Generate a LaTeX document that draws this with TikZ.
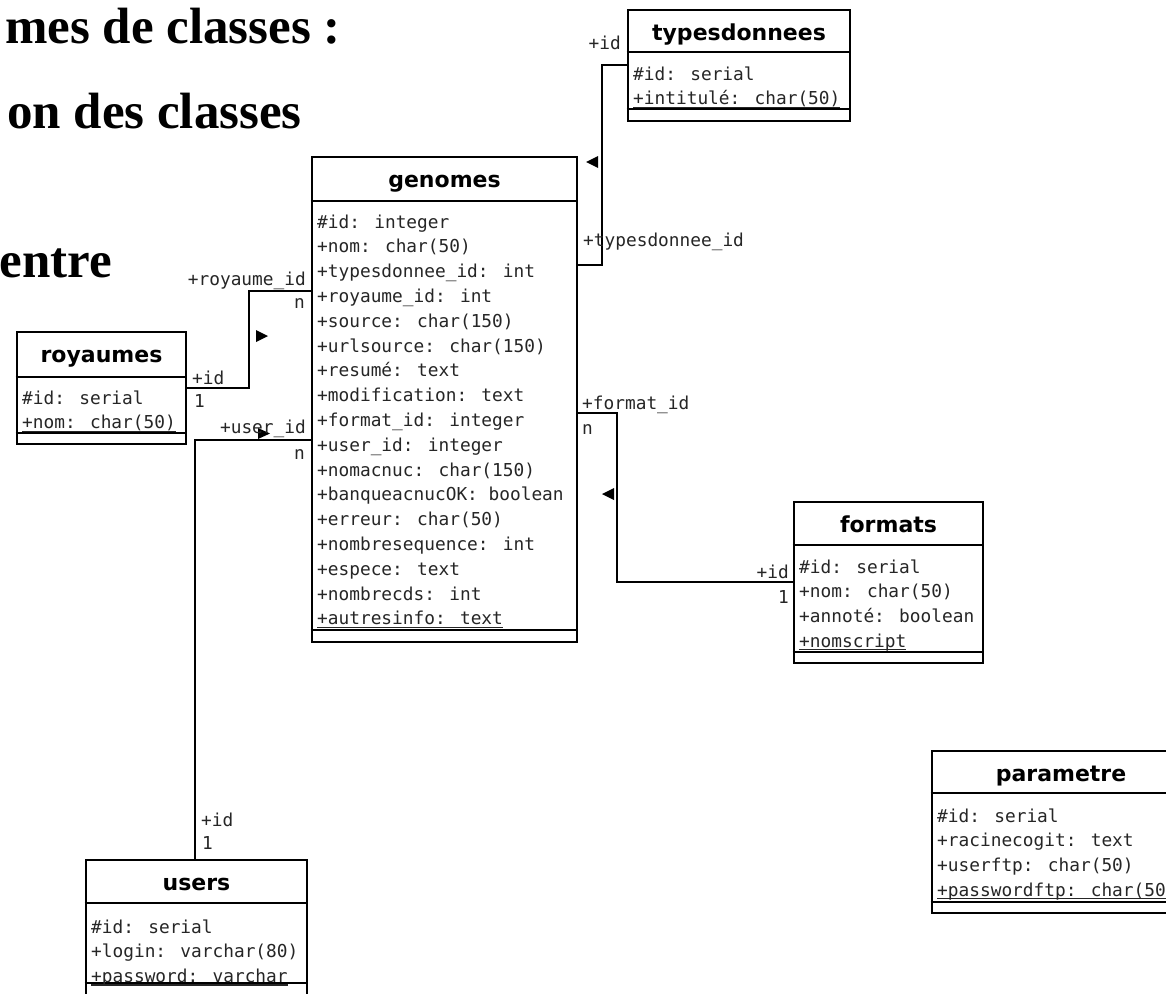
\documentclass[tikz,border=0pt]{standalone}
\usepackage{fontspec}
\setmainfont{Liberation Serif}
\newfontfamily\monofont{DejaVu Sans Mono}
\newfontfamily\headfont{DejaVu Sans}
\usetikzlibrary{fit}

% underlined attribute (static member), rule close under the baseline
\newcommand\ulattr[1]{\setbox0\hbox{#1}\rlap{\rule[-3pt]{\wd0}{1.2pt}}\box0}

% one attribute per line: #1 name prefix, #2 x, #3 first baseline, #4 list
\newcommand\attrlist[4]{%
  \foreach \t [count=\i] in {#4} {
    \node[attr] (#1-\i) at (#2, {#3+24.8*(\i-1)}) {\t};
  }}

\tikzset{
  classbox/.style={draw, line width=2.6pt, fill=white, inner sep=0pt},
  sepline/.style={line width=2.3pt},
  conn/.style={line width=2.5pt},
  classtitle/.style={font=\headfont\bfseries\fontsize{22}{22}\selectfont, anchor=base, inner sep=0pt},
  attr/.style={font=\monofont\fontsize{17.8}{20}\selectfont, anchor=base west, inner sep=0pt, text=black!85},
  rolelabel/.style={font=\monofont\fontsize{17.8}{20}\selectfont, inner sep=0pt, text=black!85},
  dirmark/.style={fill=black},
  slidetext/.style={font=\bfseries\fontsize{51}{60}\selectfont, anchor=base east, inner sep=0pt},
}

\begin{document}
\begin{tikzpicture}[x=1pt, y=-1pt]
\useasboundingbox (0,0) rectangle (1166,993);
\clip (0,0) rectangle (1166,993);
\fill[white] (0,0) rectangle (1166,993);

% slide heading fragments
\node[slidetext] (line1) at (341,43) {mes de classes :};
\node[slidetext] (line2) at (302,128) {on des classes};
\node[slidetext] (line3) at (112,277) {entre};

% ---------- typesdonnees ----------
\path (628,10) coordinate (td-nw) (850,121) coordinate (td-se);
\node[classbox, fit=(td-nw)(td-se)] (typesdonnees) {};
\draw[sepline] (typesdonnees.west |- 0,52) -- (typesdonnees.east |- 0,52);
\draw[sepline] (typesdonnees.west |- 0,109) -- (typesdonnees.east |- 0,109);
\node[classtitle] (typesdonnees-title) at (739,40) {typesdonnees};
\attrlist{td}{633}{80}{\#id: serial, \ulattr{+intitulé: char(50)}}

% ---------- genomes ----------
\path (312,157) coordinate (gen-nw) (577,642) coordinate (gen-se);
\node[classbox, fit=(gen-nw)(gen-se)] (genomes) {};
\draw[sepline] (genomes.west |- 0,201) -- (genomes.east |- 0,201);
\draw[sepline] (genomes.west |- 0,630) -- (genomes.east |- 0,630);
\node[classtitle] (genomes-title) at (444.5,187) {genomes};
\attrlist{gen}{317}{228}{\#id: integer, +nom: char(50), +typesdonnee\_id: int,
  +royaume\_id: int, +source: char(150), +urlsource: char(150), +resumé: text,
  +modification: text, +format\_id: integer, +user\_id: integer,
  +nomacnuc: char(150), +banqueacnucOK: boolean, +erreur: char(50),
  +nombresequence: int, +espece: text, +nombrecds: int, \ulattr{+autresinfo: text}}

% ---------- royaumes ----------
\path (17,332) coordinate (roy-nw) (186,444) coordinate (roy-se);
\node[classbox, fit=(roy-nw)(roy-se)] (royaumes) {};
\draw[sepline] (royaumes.west |- 0,377) -- (royaumes.east |- 0,377);
\draw[sepline] (royaumes.west |- 0,433) -- (royaumes.east |- 0,433);
\node[classtitle] (royaumes-title) at (101.5,362) {royaumes};
\attrlist{roy}{22}{404}{\#id: serial, \ulattr{+nom: char(50)}}

% ---------- formats ----------
\path (794,502) coordinate (fmt-nw) (983,663) coordinate (fmt-se);
\node[classbox, fit=(fmt-nw)(fmt-se)] (formats) {};
\draw[sepline] (formats.west |- 0,545) -- (formats.east |- 0,545);
\draw[sepline] (formats.west |- 0,652) -- (formats.east |- 0,652);
\node[classtitle] (formats-title) at (888.5,532) {formats};
\attrlist{fmt}{799}{573}{\#id: serial, +nom: char(50), +annoté: boolean, \ulattr{+nomscript}}

% ---------- parametre (runs past the right edge) ----------
\path (932,751) coordinate (par-nw) (1190,913) coordinate (par-se);
\node[classbox, fit=(par-nw)(par-se)] (parametre) {};
\draw[sepline] (parametre.west |- 0,793) -- (parametre.east |- 0,793);
\draw[sepline] (parametre.west |- 0,902) -- (parametre.east |- 0,902);
\node[classtitle] (parametre-title) at (1061,781) {parametre};
\attrlist{par}{937}{822}{\#id: serial, +racinecogit: text, +userftp: char(50),
  \ulattr{+passwordftp: char(50)}}

% ---------- users (runs past the bottom edge) ----------
\path (86,860) coordinate (usr-nw) (307,1000) coordinate (usr-se);
\node[classbox, fit=(usr-nw)(usr-se)] (users) {};
\draw[sepline] (users.west |- 0,903) -- (users.east |- 0,903);
\draw[sepline] (users.west |- 0,983) -- (users.east |- 0,983);
\node[classtitle] (users-title) at (196.5,890) {users};
\attrlist{usr}{91}{933}{\#id: serial, +login: varchar(80), \ulattr{+password: varchar}}

% ---------- associations ----------
\draw[conn] (typesdonnees.west |- 0,65) -| (602,265) -- (genomes.east |- 0,265);
\draw[conn] (royaumes.east |- 0,388) -| (249,291) -- (genomes.west |- 0,291);
\draw[conn] (genomes.west |- 0,440) -| (users.north -| 195,0);
\draw[conn] (genomes.east |- 0,413) -| (617,582) -- (formats.west |- 0,582);

% reading-direction markers
\fill[dirmark] (598,156) -- (586,162) -- (598,168) -- cycle;
\fill[dirmark] (256,330) -- (268,336) -- (256,342) -- cycle;
\fill[dirmark] (258,428) -- (270,433.5) -- (258,439) -- cycle;
\fill[dirmark] (614,488) -- (602,494) -- (614,500) -- cycle;

% role names and multiplicities
\node[rolelabel, anchor=east] (td-id) at (621,43) {+id};
\node[rolelabel, anchor=west] (gen-td) at (583,242) {+typesdonnee\_id};
\node[rolelabel, anchor=east] (gen-roy) at (306,281) {+royaume\_id};
\node[rolelabel, anchor=east] (gen-roy-m) at (305,304) {n};
\node[rolelabel, anchor=west] (roy-id) at (192,378) {+id};
\node[rolelabel, anchor=west] (roy-m) at (194,401) {1};
\node[rolelabel, anchor=east] (gen-user) at (306,429) {+user\_id};
\node[rolelabel, anchor=east] (gen-user-m) at (305,455) {n};
\node[rolelabel, anchor=west] (users-id) at (201,820) {+id};
\node[rolelabel, anchor=west] (users-m) at (202,843) {1};
\node[rolelabel, anchor=west] (gen-fmt) at (582,405) {+format\_id};
\node[rolelabel, anchor=west] (gen-fmt-m) at (582,430) {n};
\node[rolelabel, anchor=east] (fmt-id) at (789,572) {+id};
\node[rolelabel, anchor=east] (fmt-m) at (789,597) {1};
\end{tikzpicture}
\end{document}
